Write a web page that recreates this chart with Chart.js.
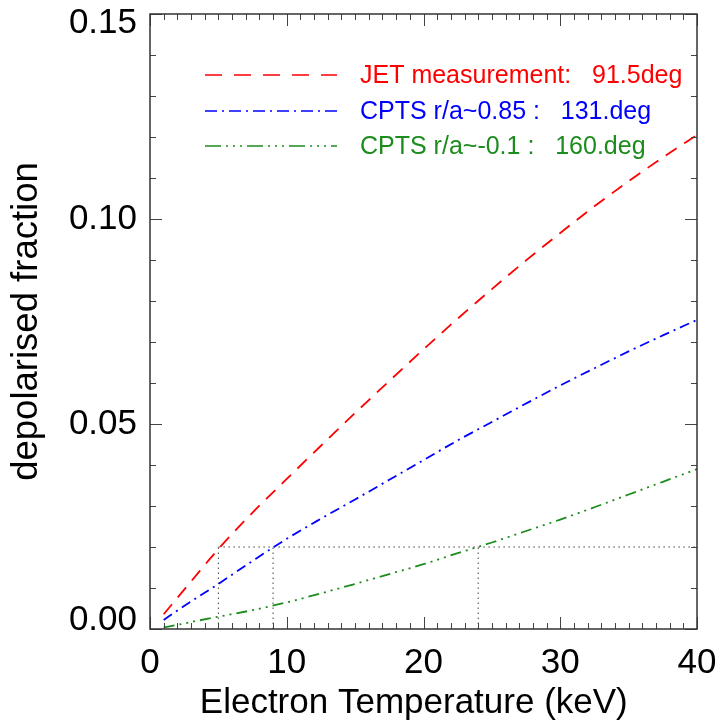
<!DOCTYPE html>
<html><head><meta charset="utf-8">
<script src="https://cdn.jsdelivr.net/npm/chart.js@4/dist/chart.umd.min.js"></script>
<style>html,body{margin:0;padding:0;background:#fff;}</style>
</head><body>
<canvas id="c" width="720" height="726"></canvas>
<script>
// ---- data ----
const temperature = [1, 2, 3, 5, 7.5, 10, 12.5, 15, 17.5, 20, 22.5, 25, 27.5, 30, 32.5, 35, 37.5, 40];
const jetFraction = [0.0036, 0.0076, 0.0116, 0.0195, 0.0284, 0.0366, 0.0447, 0.0527, 0.0605, 0.0682, 0.0757, 0.0829, 0.0899, 0.0966, 0.1031, 0.1092, 0.1150, 0.1205];
const cptsEdgeFraction = [0.0022, 0.0045, 0.0067, 0.0110, 0.0166, 0.0220, 0.0269, 0.0316, 0.0364, 0.0412, 0.0460, 0.0505, 0.0550, 0.0594, 0.0636, 0.0677, 0.0716, 0.0754];
const cptsCoreFraction = [0.0004, 0.0010, 0.0017, 0.0030, 0.0046, 0.0065, 0.0087, 0.0110, 0.0134, 0.0158, 0.0185, 0.0211, 0.0239, 0.0267, 0.0297, 0.0328, 0.0359, 0.0390];
const refLevel = 0.02;
const refTemps = [5, 9, 24];
const refLineEnd = 40;
const legendLabels = ['JET measurement:   91.5deg', 'CPTS r/a~0.85 :   131.deg', 'CPTS r/a~-0.1 :   160.deg'];
const xTitle = 'Electron Temperature (keV)  ';
const yTitle = 'depolarised fraction';

const FONT = '"Liberation Sans", Helvetica, Arial, sans-serif';
const RED = 'rgb(255,0,0)', BLUE = 'rgb(0,0,255)', GREEN = 'rgb(28,140,28)';
const GRAY = '#444';

const curve = (label, ys, color, dash, legendIdx) => ({
  label, data: temperature.map((t, i) => ({x: t, y: ys[i]})),
  borderColor: color, borderWidth: 1.8, borderDash: dash, pointRadius: 0,
  cubicInterpolationMode: 'monotone', fill: false, legendIdx
});
const datasets = [
  curve(legendLabels[0], jetFraction, RED, [13, 9], 0),
  curve(legendLabels[1], cptsEdgeFraction, BLUE, [10, 5, 2, 5], 1),
  curve(legendLabels[2], cptsCoreFraction, GREEN, [11, 5, 2, 5, 2, 5, 2, 5], 2),
  {label: 'ref-h', data: [{x: refTemps[0], y: refLevel}, {x: refLineEnd, y: refLevel}],
   borderColor: GRAY, borderWidth: 1, borderDash: [1.5, 3.5], pointRadius: 0}
];
refTemps.forEach(t => datasets.push({label: 'ref-v', data: [{x: t, y: 0}, {x: t, y: refLevel}],
  borderColor: GRAY, borderWidth: 1, borderDash: [1.5, 3.5], pointRadius: 0}));

const legendDash = [[17, 12], [12, 5, 2, 5], [16, 5, 2, 5, 2, 5, 2, 5]];

const framePlugin = {
  id: 'frame',
  afterDatasetsDraw(chart) {
    const {ctx, chartArea: a, scales: {x, y}} = chart;
    ctx.save();
    ctx.strokeStyle = '#444'; ctx.lineWidth = 1;
    ctx.setLineDash([]);
    for (let v = 0; v <= 40; v += 1) {
      const px = Math.round(x.getPixelForValue(v)) + 0.5;
      const len = v % 10 === 0 ? 12 : 6;
      ctx.beginPath();
      ctx.moveTo(px, a.bottom); ctx.lineTo(px, a.bottom - len);
      ctx.moveTo(px, a.top); ctx.lineTo(px, a.top + len);
      ctx.stroke();
    }
    for (let k = 0; k <= 15; k++) {
      const py = Math.round(y.getPixelForValue(k * 0.01)) + 0.5;
      const len = k % 5 === 0 ? 12 : 6;
      ctx.beginPath();
      ctx.moveTo(a.left, py); ctx.lineTo(a.left + len, py);
      ctx.moveTo(a.right, py); ctx.lineTo(a.right - len, py);
      ctx.stroke();
    }
    ctx.strokeStyle = '#333'; ctx.lineWidth = 1.5;
    ctx.strokeRect(a.left, a.top, a.right - a.left, a.bottom - a.top);
    const rows = [75, 111, 146];
    chart.data.datasets.forEach(ds => {
      if (ds.legendIdx === undefined) return;
      const ry = rows[ds.legendIdx];
      ctx.strokeStyle = ds.borderColor; ctx.lineWidth = 1.5;
      ctx.setLineDash(legendDash[ds.legendIdx]);
      ctx.beginPath(); ctx.moveTo(205, ry); ctx.lineTo(337, ry); ctx.stroke();
      ctx.setLineDash([]);
      ctx.fillStyle = ds.borderColor;
      ctx.font = '25px ' + FONT;
      ctx.textBaseline = 'middle'; ctx.textAlign = 'left';
      ctx.fillText(ds.label, 360, ry + 1);
    });
    ctx.restore();
  }
};

new Chart(document.getElementById('c'), {
  type: 'line',
  data: {datasets},
  options: {
    responsive: false, animation: false, devicePixelRatio: 1,
    layout: {autoPadding: false, padding: {top: 14, right: 23, left: 0, bottom: 0}},
    plugins: {legend: {display: false}, tooltip: {enabled: false}},
    scales: {
      x: {
        type: 'linear', min: 0, max: 40,
        ticks: {stepSize: 10, padding: 13, color: '#000', maxRotation: 0,
                font: {family: FONT, size: 35, lineHeight: 1.2}},
        grid: {display: false, drawTicks: false}, border: {display: false},
        title: {display: true, text: xTitle, color: '#000', padding: {top: 0, bottom: 2},
                font: {family: FONT, size: 35, lineHeight: 1.2}},
        afterFit(s) { s.height = 97; s.paddingLeft = 0; s.paddingRight = 0; }
      },
      y: {
        type: 'linear', min: 0, max: 0.15,
        ticks: {stepSize: 0.05, padding: 13, color: '#000',
                callback: (v, i, arr) => {
                  const s = Number(v).toFixed(2);
                  if (i === 0) return [s, ''];
                  if (i === arr.length - 1) return ['', s];
                  return s;
                },
                font: (c) => ({family: FONT, size: 35,
                  lineHeight: (c.index === 0 || c.index === 3) ? '18px' : 1.2})},
        grid: {display: false, drawTicks: false}, border: {display: false},
        title: {display: true, text: yTitle, color: '#000', padding: {top: 5, bottom: 0},
                font: {family: FONT, size: 36.5, lineHeight: 1.2}},
        afterFit(s) { s.width = 150; s.paddingTop = 0; s.paddingBottom = 0; }
      }
    }
  },
  plugins: [framePlugin]
});
</script>
</body></html>
